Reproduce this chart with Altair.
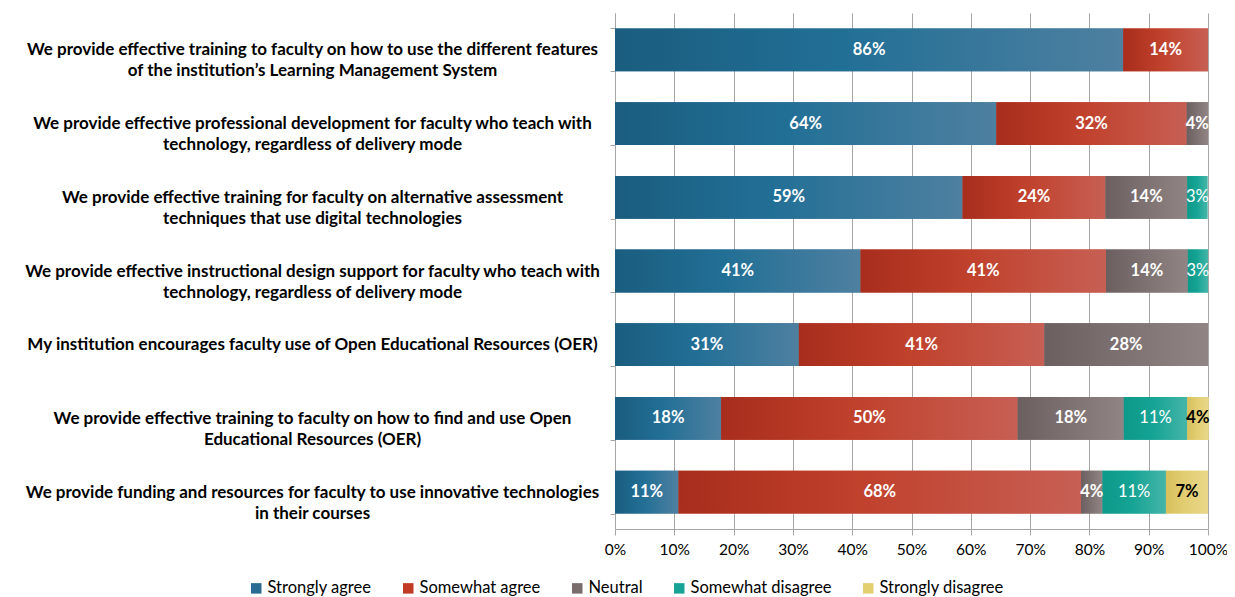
import altair as alt
import pandas as pd

categories = [
    "We provide effective training to faculty on how to use the different features\nof the institution\u2019s Learning Management System",
    "We provide effective professional development for faculty who teach with\ntechnology, regardless of delivery mode",
    "We provide effective training for faculty on alternative assessment\ntechniques that use digital technologies",
    "We provide effective instructional design support for faculty who teach with\ntechnology, regardless of delivery mode",
    "My institution encourages faculty use of Open Educational Resources (OER)",
    "We provide effective training to faculty on how to find and use Open\nEducational Resources (OER)",
    "We provide funding and resources for faculty to use innovative technologies\nin their courses",
]
responses = ["Strongly agree", "Somewhat agree", "Neutral", "Somewhat disagree", "Strongly disagree"]

strongly_agree = [85.7, 64.3, 58.6, 41.4, 31.0, 17.9, 10.7]
somewhat_agree = [14.3, 32.1, 24.1, 41.4, 41.4, 50.0, 67.9]
neutral = [0.0, 3.6, 13.8, 13.8, 27.6, 17.9, 3.6]
somewhat_disagree = [0.0, 0.0, 3.4, 3.4, 0.0, 10.7, 10.7]
strongly_disagree = [0.0, 0.0, 0.0, 0.0, 0.0, 3.6, 7.1]

legend_colors = ["#2A6B93", "#C03A24", "#7A6C6C", "#17A495", "#E3CE70"]
gradients = [
    ["#1A5D7F", "#226F96", "#4E80A0"],
    ["#A82D1C", "#C0412C", "#C75F54"],
    ["#6C5F5F", "#7D7070", "#908584"],
    ["#0E998A", "#14A394", "#45B5A8"],
    ["#D6C05C", "#E2CD72", "#E9D88A"],
]

series = [strongly_agree, somewhat_agree, neutral, somewhat_disagree, strongly_disagree]
rows = []
for ri, (resp, vals) in enumerate(zip(responses, series)):
    for cat, v in zip(categories, vals):
        if v > 0:
            rows.append({"cat": cat, "resp": resp, "order": ri, "value": v,
                         "label": f"{round(v)}%"})
df = pd.DataFrame(rows)

FONT = "Lato"

base = alt.Chart(df).transform_stack(
    stack="value", as_=["x0", "x1"], groupby=["cat"],
    sort=[alt.SortField("order", order="ascending")]
)

y_enc = alt.Y(
    "cat:N", sort=categories, title=None,
    scale=alt.Scale(paddingInner=0.42, paddingOuter=0.21),
    axis=alt.Axis(
        labelExpr="split(datum.label, '\\n')",
        labelAlign="center", labelPadding=298, labelLimit=800,
        labelFont=FONT, labelFontSize=17, labelFontWeight="bold",
        labelColor="#000000", labelLineHeight=21,
        tickBand="extent", tickSize=5, tickColor="#A6A6A6",
        domainColor="#A6A6A6", grid=False,
    ),
)
x_enc = alt.X(
    "x0:Q", title=None,
    scale=alt.Scale(domain=[0, 100], nice=False, zero=True),
    axis=alt.Axis(
        values=list(range(0, 101, 10)), labelExpr="datum.value + '%'",
        labelFont=FONT, labelFontSize=15.5, labelColor="#000000",
        labelFlush=False, labelOverlap=False,
        grid=True, gridColor="#A6A6A6", domainColor="#A6A6A6",
        tickColor="#A6A6A6", tickSize=6, labelPadding=7,
    ),
)

solid = base.mark_bar().encode(
    y=y_enc, x=x_enc, x2="x1:Q",
    color=alt.Color(
        "resp:N",
        scale=alt.Scale(domain=responses, range=legend_colors),
        legend=alt.Legend(
            orient="none", legendX=-367, legendY=567, direction="horizontal",
            title=None, symbolType="square", symbolSize=110,
            symbolStrokeWidth=0, labelFont=FONT, labelFontSize=16.5,
            labelColor="#000000", columnPadding=28, labelOffset=3,
        ),
    ),
)

layers = [solid]
for resp, stops in zip(responses, gradients):
    grad = alt.Gradient(
        gradient="linear",
        stops=[alt.GradientStop(color=stops[0], offset=0),
               alt.GradientStop(color=stops[1], offset=0.45),
               alt.GradientStop(color=stops[2], offset=1)],
        x1=0, x2=1, y1=0, y2=0,
    )
    layers.append(
        base.transform_filter(alt.datum.resp == resp)
        .mark_bar(fill=grad, strokeWidth=0)
        .encode(y=alt.Y("cat:N", sort=categories), x="x0:Q", x2="x1:Q")
    )

text_base = base.transform_calculate(mid="(datum.x0 + datum.x1) / 2")
text_enc = dict(y=alt.Y("cat:N", sort=categories), x="mid:Q", text="label:N")

layers.append(
    text_base.transform_filter("datum.order <= 2")
    .mark_text(font=FONT, fontSize=16.5, fontWeight="bold", color="white")
    .encode(**text_enc)
)
layers.append(
    text_base.transform_filter("datum.order == 3")
    .mark_text(font=FONT, fontSize=16.5, color="white")
    .encode(**text_enc)
)
layers.append(
    text_base.transform_filter("datum.order == 4")
    .mark_text(font=FONT, fontSize=16.5, fontWeight="bold", color="#000000")
    .encode(**text_enc)
)

chart = alt.layer(*layers).properties(
    width=593, height=516,
    autosize=alt.AutoSizeParams(type="none"),
    padding={"left": 607, "top": 5, "right": 19, "bottom": 67},
).configure_view(stroke=None)

chart.save("out.html", embed_options={"renderer": "svg", "actions": False})
